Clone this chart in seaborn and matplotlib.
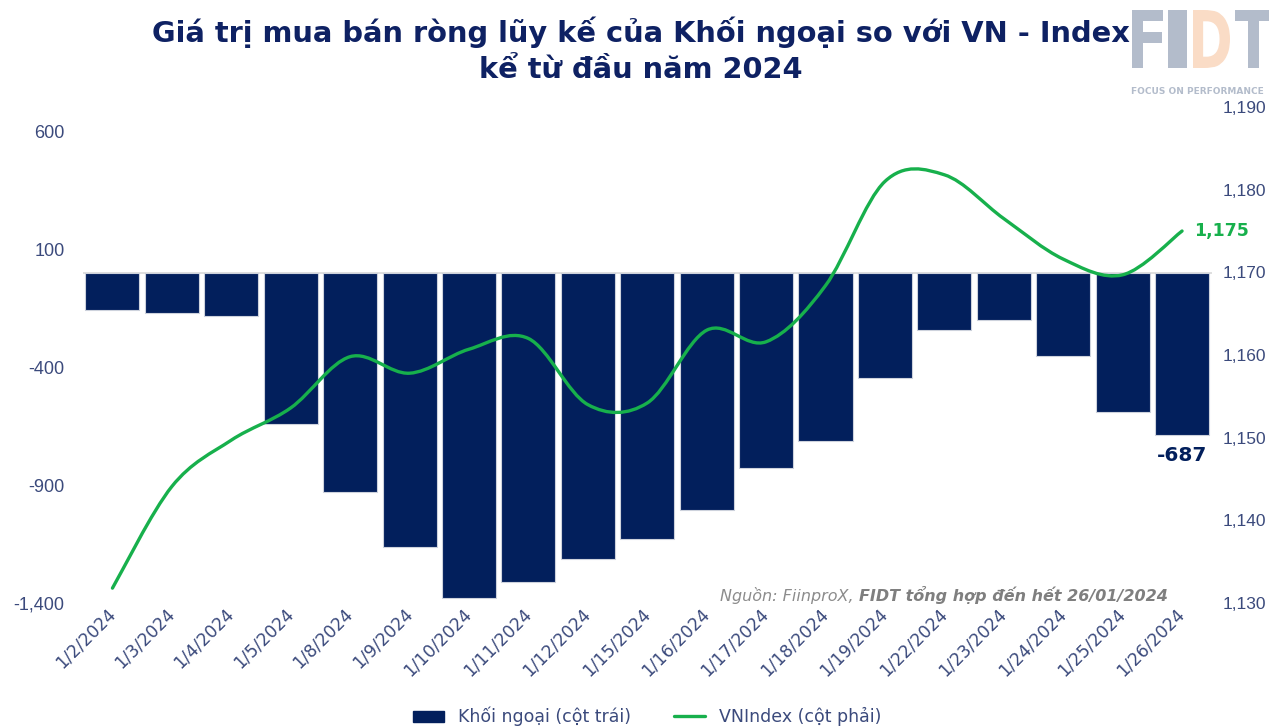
import numpy as np
import pandas as pd
import matplotlib
matplotlib.use("Agg")
import matplotlib.pyplot as plt
from matplotlib.path import Path
from matplotlib.patches import PathPatch, Patch
from matplotlib.lines import Line2D
from matplotlib.ticker import FuncFormatter
from matplotlib.textpath import TextPath
from matplotlib.font_manager import FontProperties
from matplotlib.transforms import Affine2D, IdentityTransform
import seaborn as sns

# du lieu doc tu hinh
ngay = ["1/2/2024", "1/3/2024", "1/4/2024", "1/5/2024", "1/8/2024", "1/9/2024",
        "1/10/2024", "1/11/2024", "1/12/2024", "1/15/2024", "1/16/2024", "1/17/2024",
        "1/18/2024", "1/19/2024", "1/22/2024", "1/23/2024", "1/24/2024", "1/25/2024",
        "1/26/2024"]
khoi_ngoai = [-154, -168, -182, -639, -927, -1161, -1378, -1309, -1212, -1127,
              -1005, -827, -713, -445, -239, -197, -350, -589, -687]
vnindex = [1131.8, 1144.1, 1149.7, 1153.6, 1159.8, 1157.8, 1160.7, 1162.0, 1154.0,
           1154.2, 1163.0, 1161.6, 1168.4, 1181.0, 1181.8, 1176.5, 1171.6, 1169.7, 1175.0]

trai_ticks = [-1400, -900, -400, 100, 600]
phai_ticks = [1130, 1140, 1150, 1160, 1170, 1180, 1190]

navy = "#021f5c"
xanh = "#17b04c"
chu = "#3b4a7c"
tieu_de = "#0e2163"

df = pd.DataFrame({"ngay": ngay, "khoi_ngoai": khoi_ngoai, "vnindex": vnindex})

sns.set_style("white")
plt.rcParams["font.family"] = ["DejaVu Sans"]

fig = plt.figure(figsize=(12.69, 7.26), dpi=100)
ax = fig.add_axes([0.0652, 0.1694, 0.8897, 0.6832])

sns.barplot(data=df, x="ngay", y="khoi_ngoai", color=navy, saturation=1,
            width=0.91, edgecolor="#cdd2dc", linewidth=0.8, ax=ax)
ax.axhline(0, color="#d9d9d9", lw=1.2, zorder=0.5)
ax.set_ylim(-1400, 706)
ax.set_yticks(trai_ticks)
ax.yaxis.set_major_formatter(FuncFormatter(lambda v, p: f"{int(v):,}"))
ax.set_xlabel("")
ax.set_ylabel("")
ax.tick_params(axis="y", length=0, labelsize=13, labelcolor=chu, pad=13)
ax.tick_params(axis="x", length=0, labelsize=12.3, labelcolor=chu, pad=6)
for lab in ax.get_yticklabels():
    lab.set_family(["Liberation Sans", "DejaVu Sans"])
for lab in ax.get_xticklabels():
    lab.set_rotation(45)
    lab.set_ha("right")
    lab.set_va("center")
    lab.set_rotation_mode("anchor")
for s in ax.spines.values():
    s.set_visible(False)

# duong VNIndex lam tron (catmull-rom -> bezier) tren truc phai
ax2 = ax.twinx()
ax2.set_ylim(1130, 1190)
ax2.set_yticks(phai_ticks)
ax2.yaxis.set_major_formatter(FuncFormatter(lambda v, p: f"{int(v):,}"))
ax2.tick_params(axis="y", length=0, labelsize=12.5, labelcolor=chu, pad=8)
for lab in ax2.get_yticklabels():
    lab.set_family(["Liberation Sans", "DejaVu Sans"])
for s in ax2.spines.values():
    s.set_visible(False)

xs = np.arange(len(vnindex), dtype=float)
ys = np.array(vnindex)
pts = np.column_stack([xs, ys])
ext = np.vstack([pts[0], pts, pts[-1]])
verts = [tuple(pts[0])]
codes = [Path.MOVETO]
for i in range(len(pts) - 1):
    p0, p1, p2, p3 = ext[i], ext[i + 1], ext[i + 2], ext[i + 3]
    c1 = p1 + (p2 - p0) / 6
    c2 = p2 - (p3 - p1) / 6
    verts += [tuple(c1), tuple(c2), tuple(p2)]
    codes += [Path.CURVE4] * 3
ax2.add_patch(PathPatch(Path(verts, codes), facecolor="none", edgecolor=xanh,
                        lw=2.4, capstyle="round", zorder=3))

ax.text(len(ngay) - 1, khoi_ngoai[-1] - 45, f"{khoi_ngoai[-1]:,}", ha="center", va="top",
        fontsize=14.5, fontweight="bold", color=navy)
ax2.text(len(ngay) - 1 + 0.2, vnindex[-1], f"{vnindex[-1]:,.0f}", ha="left", va="center",
         fontsize=12.5, fontweight="bold", color=xanh)

# tieu de
fig.text(0.505, 0.955, "Giá trị mua bán ròng lũy kế của Khối ngoại so với VN - Index",
         ha="center", va="center", fontsize=20.8, fontweight="bold", color=tieu_de)
fig.text(0.505, 0.903, "kể từ đầu năm 2024", ha="center", va="center",
         fontsize=20.8, fontweight="bold", color=tieu_de)

# nguon
fig.text(0.677, 0.180, "Nguồn: FiinproX, ", ha="right", va="center", fontsize=11.5,
         style="italic", color="#8c8c8c")
fig.text(0.677, 0.180, "FIDT tổng hợp đến hết 26/01/2024", ha="left", va="center",
         fontsize=11.5, style="italic", fontweight="bold", color="#7f7f7f")

# logo FIDT (chu hep, ve bang TextPath)
H = 726
fp = FontProperties(family="DejaVu Sans", weight="bold")
for chu_cai, x0, x1, mau in [("F", 1132, 1163, "#b3bccb"), ("I", 1168, 1187, "#b3bccb"),
                             ("D", 1193, 1230, "#fadcc6"), ("T", 1235, 1272, "#b3bccb")]:
    tp = TextPath((0, 0), chu_cai, size=1, prop=fp)
    bb = tp.get_extents()
    tr = (Affine2D().translate(-bb.x0, -bb.y0)
          .scale((x1 - x0) / bb.width, 58 / bb.height)
          .translate(x0, H - 68))
    fig.patches.append(PathPatch(tr.transform_path(tp), facecolor=mau, edgecolor="none",
                                 transform=IdentityTransform(), figure=fig))
fig.text(1131 / 1269, 1 - 92 / 726, "FOCUS ON PERFORMANCE", ha="left", va="center",
         fontsize=6.5, fontweight="bold", color="#b3bccb")

# chu giai
handles = [Patch(facecolor=navy, edgecolor=navy),
           Line2D([0], [0], color=xanh, lw=2.4)]
fig.legend(handles, ["Khối ngoại (cột trái)", "VNIndex (cột phải)"], loc="center",
           bbox_to_anchor=(0.51, 0.013), ncol=2, frameon=False, fontsize=12.5,
           labelcolor=chu, handlelength=1.8, handleheight=0.6, columnspacing=2.5)

fig.savefig("out.png", dpi=100)
